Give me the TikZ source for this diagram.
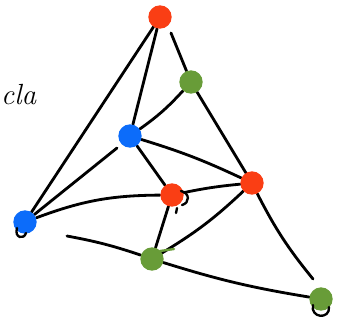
\documentclass[tikz,border=0pt]{standalone}
\usetikzlibrary{backgrounds}
\definecolor{rojo}{RGB}{250,62,20}
\definecolor{azul}{RGB}{12,108,250}
\definecolor{verde}{RGB}{104,156,56}
\begin{document}
\begin{tikzpicture}[x=0.03cm, y=-0.03cm]
  % Definir estilos
  \tikzset{
    vertice/.style={circle, minimum size=0.7cm, inner sep=0pt},
    v_rojo/.style={vertice, fill=rojo},
    v_azul/.style={vertice, fill=azul},
    v_verde/.style={vertice, fill=verde},
    arista/.style={line width=2.4pt, black, line cap=round},
    trazo/.style={line width=2pt, black, line cap=round}
  }
  \useasboundingbox (0,0) rectangle (343,327);

  % Texto a la izquierda
  \node[font=\Huge\itshape, anchor=west, inner sep=0pt] (texto) at (1,95) {cla};

  % Vertices
  \node[v_rojo] (r_arriba) at (160,17) {};
  \node[v_verde] (g_arriba) at (191,82) {};
  \node[v_azul] (b_medio) at (130,136) {};
  \node[v_rojo] (r_derecha) at (252,183) {};
  \node[v_rojo] (r_centro) at (172,195) {};
  \node[v_azul] (b_izq) at (25,222) {};
  \node[v_verde] (g_abajo) at (152,259) {};
  \node[v_verde] (g_derecha) at (321,299) {};

  % Extremos sueltos
  \coordinate (c_arriba) at (171,33);
  \coordinate (c_medio) at (117,148);
  \coordinate (c_izq) at (67,236);
  \coordinate (c_derecha) at (313,279);

  % Aristas
  \begin{scope}[on background layer]
    \draw[arista] (r_arriba) -- (b_izq);
    \draw[arista] (r_arriba) -- (b_medio);
    \draw[arista] (c_arriba) -- (g_arriba);
    \draw[arista] (g_arriba) to[bend left=6] (b_medio);
    \draw[arista] (g_arriba) -- (r_derecha);
    \draw[arista] (b_medio) to[bend left=4] (r_derecha);
    \draw[arista] (b_medio) -- (r_centro);
    \draw[arista] (c_medio) -- (b_izq);
    \draw[arista] (b_izq) to[bend left=10] (r_centro);
    \draw[arista] (r_centro) to[bend left=3] (r_derecha);
    \draw[arista] (r_derecha) to[bend right=6] (c_derecha);
    \draw[arista] (r_centro) -- (g_abajo);
    \draw[arista] (r_derecha) to[bend left=6] (g_abajo);
    \draw[arista] (g_abajo) to[bend right=4] (g_derecha);
    \draw[arista] (c_izq) to[bend left=4] (g_abajo);
  \end{scope}

  % Trazos sueltos
  \draw[trazo] (17,228) .. controls (14,238) and (24,240) .. (26,233);
  \draw[trazo] (313,305) .. controls (310,318) and (330,320) .. (329,307);
  \draw[trazo] (181,191) .. controls (190,193) and (190,203) .. (182,205);
  \draw[trazo] (177,208) -- (176,213);
  \draw[line width=2pt, verde, line cap=round] (160,251) -- (174,249);
\end{tikzpicture}
\end{document}
